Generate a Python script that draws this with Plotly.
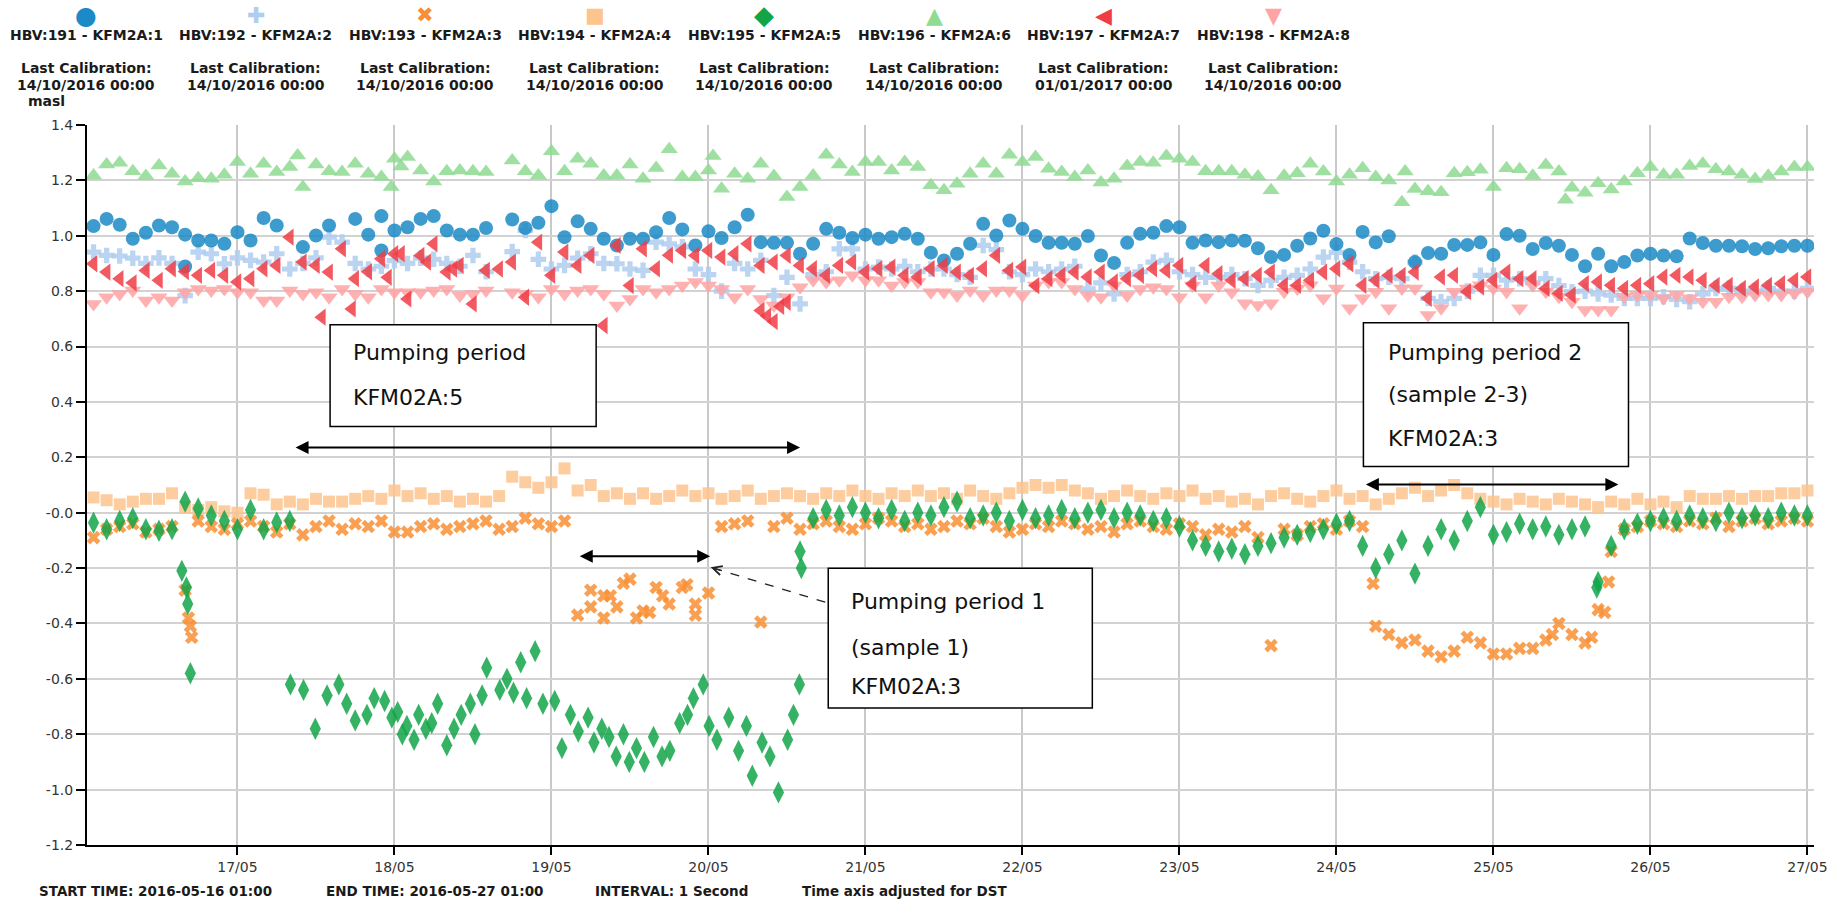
import pandas as pd
import plotly.graph_objects as go

START = pd.Timestamp("2016-05-16 00:00")

# ---------------- data (hours since 2016-05-16 00:00, values in masl) ----------------
grid_hours = list(range(2, 265, 2))  # sampling every 2 h, 16/05 02:00 .. 27/05 00:00

hbv191 = [1.035, 1.061, 1.040, 0.989, 1.011, 1.037, 1.031, 1.004, 0.983, 0.983,
          0.971, 1.013, 0.983, 1.064, 1.037, None, 0.959, 1.001, 1.037, None,
          1.061, 1.004, 1.071, 1.019, 1.031, 1.061, 1.071, 1.019, 1.004, 1.004,
          1.028, None, 1.059, 1.028, 1.047, 1.107, 0.995, 1.052, 1.025, 0.989,
          0.965, 0.989, 0.989, 1.013,
          1.064, 1.023, 0.965, 1.016, 0.992, 1.031, 1.076, 0.977, 0.975, 0.975,
          0.935, 0.971, 1.025, 1.011, 0.992, 1.004, 0.989, 0.995, 1.007, 0.989,
          0.939, 0.911, 0.935, 0.971, 1.043, 1.001, 1.055, 1.025, 0.999, 0.975,
          0.975, 0.971, 0.999, 0.929, 0.902, 0.975, 1.007, 1.011, 1.035, 1.031,
          0.975, 0.983, 0.977, 0.983,
          0.982, 0.955, 0.923, 0.931, 0.964, 0.990, 1.018, 0.970, 0.931, 1.014,
          0.976, 0.998, None, 0.905, 0.938, 0.935, 0.967, 0.967, 0.976, 0.931,
          1.006, 1.000, 0.952, 0.974, 0.964, 0.931, 0.890, 0.935, 0.890, 0.905,
          0.929, 0.935, 0.929, 0.926, 0.990, 0.974, 0.964, 0.964, 0.962, 0.952,
          0.955, 0.962, 0.964, 0.964]
hbv191_extra_h = [16.0, 46.0]
hbv191_extra_v = [0.889, 0.947]

hbv192 = [0.941, 0.929, 0.927, 0.919, 0.900, 0.920, 0.900, 0.784, 0.941, 0.935,
          0.899, 0.920, 0.911, 0.905, 0.935, 0.880, 0.900, 0.920, 0.995, 0.977,
          0.900, 0.880, 0.890, 0.910, 0.900, 0.919, 0.915, 0.900, 0.890, 0.929,
          0.870, None, 0.943, 1.019, 0.915, 0.880, 0.893, 0.919, 0.935, 0.900,
          0.899, 0.880, 0.875, 0.977,
          0.971, 0.960, 0.880, 0.860, 0.800, 0.900, 0.880, 0.911, 0.784, 0.850,
          0.754, 0.860, 0.870, 0.953, 0.953, 0.880, 0.887, 0.880, 0.890, 0.870,
          0.880, 0.880, 0.860, 0.850, 0.965, 0.950, 0.870, 0.860, 0.880, 0.870,
          0.880, 0.890, 0.808, 0.830, 0.790, 0.860, 0.870, 0.905, 0.911, 0.870,
          0.860, 0.850, 0.850, 0.860,
          0.845, 0.821, 0.839, 0.850, 0.857, 0.880, 0.923, 0.940, 0.905, 0.870,
          0.845, 0.850, 0.845, 0.905, 0.774, 0.762, 0.774, 0.800, 0.857, 0.857,
          0.840, 0.845, 0.830, 0.845, 0.820, 0.798, 0.800, 0.790, 0.786, 0.774,
          0.774, 0.774, 0.780, 0.770, 0.762, 0.790, 0.810, 0.810, 0.800, 0.800,
          0.810, 0.800, 0.800, 0.810]

hbv193 = [-0.09, -0.06, -0.05, -0.04, -0.07, -0.06, -0.05, -0.28, -0.03, -0.05,
          -0.06, -0.04, -0.03, -0.05, -0.07,
          -0.04, -0.08, -0.05, -0.03, -0.06, -0.04, -0.05, -0.03, -0.07, -0.07,
          -0.05, -0.04, -0.06, -0.05, -0.04, -0.03, -0.06, -0.05, -0.02, -0.04,
          -0.05, -0.03,
          -0.37, -0.28, -0.30, -0.34, -0.24, -0.355, -0.27, -0.33, -0.27, -0.37, -0.29,
          -0.05, -0.04, -0.03, -0.395, -0.05, -0.02, -0.06, -0.04, -0.03, -0.05,
          -0.06, -0.04, -0.02, -0.03, -0.05, -0.04, -0.06, -0.05, -0.03, -0.04,
          -0.02, -0.05, -0.07, -0.06, -0.04, -0.05, -0.03, -0.04, -0.06, -0.05,
          -0.07, -0.04, -0.03, -0.05, -0.06, -0.04, -0.05, -0.08, -0.06, -0.07,
          -0.05, -0.09, -0.48, -0.06, -0.08, -0.05, -0.04, -0.06, -0.03,
          -0.05, -0.41, -0.44, -0.47, -0.46, -0.50, -0.52, -0.50, -0.45, -0.47,
          -0.51, -0.51, -0.49, -0.49, -0.46, -0.40, -0.44, -0.47, -0.35,
          -0.14, -0.06, -0.05, -0.03, -0.04, -0.05, -0.03, -0.04, -0.02, -0.05,
          -0.03, -0.02, -0.04, -0.03, -0.02, -0.03]
hbv193_extra_h = [16.5, 16.8, 17.0, 78.0, 80.0, 81.0, 83.0, 85.0, 87.0, 89.0, 92.7,
                  94.0, 197.6, 225.0, 231.0, 233.0, 233.6]
hbv193_extra_v = [-0.38, -0.41, -0.45, -0.34, -0.38, -0.30, -0.255, -0.38, -0.36, -0.30,
                  -0.26, -0.33, -0.256, -0.44, -0.45, -0.36, -0.25]

hbv194 = [0.055, 0.045, 0.030, 0.040, 0.050, 0.050, 0.070, 0.020, 0.010, 0.020,
          0.005, 0.000, 0.070, 0.065, 0.030,
          0.040, 0.030, 0.050, 0.040, 0.040, 0.050, 0.060, 0.050, 0.080, 0.060,
          0.070, 0.050, 0.060, 0.040, 0.050, 0.040,
          0.060, 0.130, 0.110, 0.090, 0.110, 0.160, 0.080, 0.100, 0.060, 0.070,
          0.050, 0.070, 0.050, 0.060, 0.080, 0.060, 0.070, 0.050, 0.060, 0.080,
          0.050, 0.060, 0.070, 0.060, 0.050, 0.070, 0.060, 0.080, 0.060, 0.050,
          0.070, 0.060, 0.080, 0.060, 0.070, 0.050, 0.080, 0.060, 0.050, 0.070,
          0.090, 0.100, 0.090, 0.100, 0.080, 0.070, 0.050, 0.060, 0.080, 0.060,
          0.050, 0.070, 0.060, 0.080, 0.050, 0.060, 0.040, 0.050, 0.030, 0.060,
          0.070, 0.050, 0.040, 0.060, 0.080, 0.050, 0.060, 0.030, 0.050, 0.070,
          0.090, 0.060, 0.080, 0.100, 0.070, 0.050, 0.040, 0.030, 0.050, 0.040,
          0.030, 0.050, 0.040, 0.030, 0.020, 0.040, 0.030, 0.050, 0.030, 0.040,
          0.020, 0.060, 0.050, 0.050, 0.060, 0.050, 0.060, 0.060, 0.070, 0.070,
          0.080]

hbv195 = [-0.036, -0.06, -0.03, -0.02, -0.06, -0.065, -0.06, 0.04, 0.015, -0.01,
          -0.03, -0.06, 0.01, -0.06, -0.035,
          -0.03, None, None, None, None, None, None, None, None, None,
          None, None, None, None, None, None, None, None, None, None,
          None, None, None, None, None, None, None, None, None, None,
          None, None, None, None, None, None, None, None, None, None,
          -0.02, 0.01, -0.01, 0.02, 0.00, -0.02, 0.01, -0.03, 0.00, -0.01,
          0.02, 0.04, -0.02, -0.01, 0.00, -0.03, 0.01, -0.02, -0.01, 0.01,
          -0.02, 0.00, 0.01, -0.02, 0.00, -0.01, -0.03, -0.02,
          -0.05, -0.10, -0.12, -0.14, -0.13, -0.15, -0.12, -0.11, -0.09, -0.08,
          -0.07, -0.06, -0.04, -0.03,
          -0.12, -0.20, -0.15, -0.10, -0.22, -0.12, -0.06, -0.10, -0.03, 0.02,
          -0.08, -0.07, -0.04, -0.06, -0.05, -0.08, -0.06, -0.05, -0.25, -0.12,
          -0.06, -0.04, -0.03, -0.02, -0.03, -0.01, -0.02, -0.03, 0.00, -0.02,
          -0.01, -0.02, 0.00, -0.01, -0.01]
hbv195_extra_h = [15.5, 16.2, 16.4, 16.8,
                  32.1, 34.1, 35.9, 37.7, 39.5, 40.7, 42.0, 43.8, 44.9, 46.5,
                  47.6, 48.5, 49.2, 49.9, 51.0, 51.7, 52.8, 53.7, 54.6, 56.0,
                  57.1, 58.2, 59.6, 60.3, 61.4, 62.1, 64.1, 65.2, 66.2, 67.3,
                  68.2, 69.5, 70.7, 72.5, 73.6, 74.9, 76.1, 77.6, 78.5, 79.7,
                  80.8, 81.9, 83.0, 83.9, 85.0, 86.2, 87.6, 88.9, 90.1, 91.6,
                  92.8, 93.7, 95.2, 96.1, 97.3, 99.1, 100.6, 101.8, 102.7, 104.2,
                  105.4, 106.7, 108.1, 109.0, 109.9, 110.0, 110.2, 231.8]
hbv195_extra_v = [-0.21, -0.27, -0.33, -0.58,
                  -0.62, -0.64, -0.78, -0.66, -0.62, -0.69, -0.75, -0.73, -0.67, -0.68,
                  -0.74, -0.72, -0.80, -0.77, -0.82, -0.73, -0.78, -0.76, -0.69, -0.84,
                  -0.78, -0.73, -0.69, -0.80, -0.66, -0.56, -0.64, -0.60, -0.65, -0.54,
                  -0.67, -0.50, -0.69, -0.68, -0.85, -0.73, -0.79, -0.74, -0.83, -0.78,
                  -0.81, -0.88, -0.80, -0.90, -0.85, -0.90, -0.81, -0.88, -0.86, -0.76,
                  -0.73, -0.67, -0.62, -0.77, -0.82, -0.74, -0.86, -0.77, -0.95, -0.83,
                  -0.88, -1.01, -0.82, -0.73, -0.62, -0.14, -0.20, -0.27]

hbv196 = [1.218, 1.257, 1.264, 1.233, 1.216, 1.254, 1.224, 1.196, 1.208, 1.206,
          1.220, 1.266, 1.224, 1.260, 1.230, 1.248, 1.176, 1.257, 1.233, 1.230,
          1.260, 1.224, 1.212, 1.278, 1.284, 1.236, 1.196, 1.233, 1.236, 1.233,
          1.230, None, 1.272, 1.233, 1.218, 1.305, 1.233, 1.278, 1.260, 1.218,
          1.218, 1.257, 1.206, 1.245,
          1.312, 1.212, 1.212, 1.236, 1.170, 1.224, 1.206, 1.260, 1.216, 1.140,
          1.176, 1.218, 1.293, 1.257, 1.230, 1.266, 1.266, 1.236, 1.266, 1.248,
          1.182, 1.164, 1.188, 1.224, 1.260, 1.224, 1.293, 1.266, 1.284, 1.242,
          1.230, 1.212, 1.236, 1.192, 1.206, 1.252, 1.266, 1.264, 1.288, 1.278,
          1.266, 1.233, 1.233, 1.233,
          1.220, 1.214, 1.164, 1.217, 1.226, 1.260, 1.232, 1.196, 1.220, 1.244,
          1.212, 1.200, 1.121, 1.169, 1.161, 1.157, 1.226, 1.229, 1.238, 1.176,
          1.244, 1.240, 1.217, 1.256, 1.232, 1.173, 1.155, 1.190, 1.167, 1.196,
          1.226, 1.248, 1.220, 1.220, 1.252, 1.260, 1.240, 1.232, 1.220, 1.205,
          1.217, 1.232, 1.248, 1.248]
hbv196_extra_h = [33.2, 47.5, 49.0, 96.7, 202.5, 227.0]
hbv196_extra_v = [1.290, 1.176, 1.250, 1.288, 1.232, 1.130]

hbv197 = [0.899, 0.869, 0.845, 0.830, 0.875, 0.839, 0.881, 0.871, 0.857, 0.875,
          0.857, 0.833, 0.845, 0.881, 0.893, 0.995, 0.905, 0.893, 0.869, 0.953,
          0.845, 0.870, 0.917, 0.935, 0.772, 0.929, 0.971, 0.869, 0.893, 0.754,
          0.875, 0.880, 0.905, 0.778, 0.977, 0.857, 0.941, 0.893, 0.929, 0.676,
          0.965, 0.820, 0.953, 0.881,
          0.930, 0.947, 0.929, 0.947, 0.923, 0.935, 0.971, 0.730, 0.690, 0.760,
          0.893, 0.881, 0.857, 0.893, 0.905, 0.869, 0.881, 0.887, 0.857, 0.851,
          0.881, 0.893, 0.869, 0.857, 0.881, 0.929, 0.875, 0.887, 0.820, 0.845,
          0.857, 0.869, 0.851, 0.869, 0.833, 0.845, 0.857, 0.881, 0.875, 0.893,
          0.827, 0.893, 0.863, 0.839,
          0.845, 0.857, 0.869, 0.821, 0.821, 0.839, 0.869, 0.881, 0.899, 0.821,
          0.839, 0.857, 0.857, 0.869, 0.774, 0.851, 0.857, 0.798, 0.815, 0.839,
          0.869, 0.845, 0.845, 0.810, 0.792, 0.786, 0.827, 0.833, 0.821, 0.810,
          0.821, 0.827, 0.851, 0.857, 0.851, 0.839, 0.821, 0.821, 0.810, 0.815,
          0.821, 0.827, 0.839, 0.851]
hbv197_extra_h = [36.9, 41.5, 47.0, 49.0, 53.0, 57.0, 104.0, 105.0, 106.0, 107.0, 108.0]
hbv197_extra_v = [0.706, 0.736, 0.850, 0.935, 0.905, 0.880, 0.893, 0.710, 0.905, 0.745, 0.929]

hbv198 = [0.754, 0.778, 0.790, 0.802, 0.766, 0.778, 0.766, 0.796, 0.808, 0.802,
          0.808, 0.796, 0.796, 0.766, 0.766, 0.802, 0.790, 0.796, 0.778, 0.808,
          0.790, 0.778, 0.808, 0.796, 0.796, 0.796, 0.802, 0.808, 0.784, 0.790,
          0.802, None, 0.796, 0.790, 0.778, 0.808, 0.790, 0.802, 0.808, 0.790,
          0.748, 0.772, 0.808, 0.796,
          0.808, 0.820, 0.833, 0.820, 0.808, 0.778, 0.808, 0.772, 0.748, 0.778,
          0.814, 0.839, 0.833, 0.839, 0.857, 0.839, 0.839, 0.820, 0.833, 0.833,
          0.796, 0.796, 0.784, 0.802, 0.784, 0.802, 0.802, 0.784, 0.820, 0.833,
          0.833, 0.808, 0.784, 0.778, 0.820, 0.784, 0.808, 0.814, 0.808, 0.778,
          0.820, 0.778, 0.820, 0.796,
          0.756, 0.750, 0.756, 0.798, 0.810, 0.821, 0.774, 0.810, 0.738, 0.774,
          0.798, 0.738, 0.810, 0.810, 0.714, 0.738, 0.798, 0.810, 0.821, 0.810,
          0.798, 0.738, 0.821, 0.798, 0.780, 0.762, 0.732, 0.732, 0.732, 0.780,
          0.786, 0.786, 0.774, 0.786, 0.774, 0.762, 0.762, 0.780, 0.780, 0.786,
          0.786, 0.786, 0.792, 0.798]

legend_names = ["HBV:191 - KFM2A:1", "HBV:192 - KFM2A:2", "HBV:193 - KFM2A:3",
                "HBV:194 - KFM2A:4", "HBV:195 - KFM2A:5", "HBV:196 - KFM2A:6",
                "HBV:197 - KFM2A:7", "HBV:198 - KFM2A:8"]
calibration = ["14/10/2016 00:00", "14/10/2016 00:00", "14/10/2016 00:00",
               "14/10/2016 00:00", "14/10/2016 00:00", "14/10/2016 00:00",
               "01/01/2017 00:00", "14/10/2016 00:00"]
y_ticks = [1.4, 1.2, 1.0, 0.8, 0.6, 0.4, 0.2, 0.0, -0.2, -0.4, -0.6, -0.8, -1.0, -1.2]
y_ticktext = ["1.4", "1.2", "1.0", "0.8", "0.6", "0.4", "0.2", "-0.0",
              "-0.2", "-0.4", "-0.6", "-0.8", "-1.0", "-1.2"]

for arr in (hbv191, hbv192, hbv193, hbv194, hbv195, hbv196, hbv197, hbv198):
    assert len(arr) == len(grid_hours), len(arr)

# ---------------- styling ----------------
W, H = 1843, 904
ML, MR, MT, MB = 87, 29, 125, 59
PW, PH = W - ML - MR, H - MT - MB


def T(h):
    return START + pd.Timedelta(hours=h)


def px(x):   # pixel -> paper x
    return (x - ML) / PW


def py(y):   # pixel -> paper y
    return (H - MB - y) / PH


grid_t = [T(h) for h in grid_hours]

# legend glyphs for each series (index order of legend_names)
colors = ["#1b8ac6", "#aecdef", "#f98f35", "#fdc48e", "#12a548", "#8edb92", "#f03c44", "#ffa3a5"]
glyphs = ["\u25CF", "\u271A", "\u2716", "\u25A0", "\u25C6", "\u25B2", "\u25C0", "\u25BC"]
glyph_size = [25, 22, 21, 21, 26, 22, 22, 22]

series = [
    # legend index, values, extras, symbol, size
    (3, hbv194, None, "square", 12),
    (2, hbv193, (hbv193_extra_h, hbv193_extra_v), "x", 12),
    (4, hbv195, (hbv195_extra_h, hbv195_extra_v), "diamond-tall", 16),
    (5, hbv196, (hbv196_extra_h, hbv196_extra_v), "triangle-up", 15),
    (1, hbv192, None, "cross", 13),
    (7, hbv198, None, "triangle-down", 15),
    (0, hbv191, (hbv191_extra_h, hbv191_extra_v), "circle", 14),
    (6, hbv197, (hbv197_extra_h, hbv197_extra_v), "triangle-left", 15),
]

fig = go.Figure()
for idx, vals, extra, sym, size in series:
    xs = list(grid_t)
    ys = list(vals)
    if extra is not None:
        xs += [T(h) for h in extra[0]]
        ys += list(extra[1])
    fig.add_trace(go.Scatter(
        x=xs, y=ys, mode="markers", name=legend_names[idx], showlegend=False,
        marker=dict(symbol=sym, color=colors[idx], size=size, opacity=0.85,
                    line=dict(width=0)),
    ))

annotations = []
txt_font = dict(family="DejaVu Sans", size=14, color="#1a1a1a")
leg_cx = [86 + 169.6 * i for i in range(8)]
for i in range(8):
    annotations.append(dict(xref="paper", yref="paper", x=px(leg_cx[i]), y=py(15),
                            text=glyphs[i], showarrow=False, xanchor="center",
                            yanchor="middle",
                            font=dict(family="DejaVu Sans", size=glyph_size[i],
                                      color=colors[i])))
    annotations.append(dict(xref="paper", yref="paper", x=px(leg_cx[i]), y=py(35),
                            text="<b>%s</b>" % legend_names[i], showarrow=False,
                            xanchor="center", yanchor="middle", font=txt_font))
    annotations.append(dict(xref="paper", yref="paper", x=px(leg_cx[i]), y=py(68),
                            text="<b>Last Calibration:</b>", showarrow=False,
                            xanchor="center", yanchor="middle", font=txt_font))
    annotations.append(dict(xref="paper", yref="paper", x=px(leg_cx[i]), y=py(85),
                            text="<b>%s</b>" % calibration[i], showarrow=False,
                            xanchor="center", yanchor="middle", font=txt_font))
annotations.append(dict(xref="paper", yref="paper", x=px(46), y=py(101),
                        text="<b>masl</b>", showarrow=False, xanchor="center",
                        yanchor="middle", font=txt_font))

# bottom information line
for xpix, t in [(37, "START TIME: 2016-05-16 01:00"), (324, "END TIME: 2016-05-27 01:00"),
                (593, "INTERVAL: 1 Second"), (800, "Time axis adjusted for DST")]:
    annotations.append(dict(xref="paper", yref="paper", x=px(xpix), y=py(891),
                            text="<b>%s</b>" % t, showarrow=False, xanchor="left",
                            yanchor="middle", font=dict(family="DejaVu Sans", size=13.5,
                                                        color="#1a1a1a")))

# text boxes
box_font = dict(family="DejaVu Sans", size=22, color="#111111")
boxes = [
    ((38.16, 78.83, 0.311, 0.679), 41.4, [(0.578, "Pumping period"), (0.416, "KFM02A:5")]),
    ((196.12, 236.64, 0.167, 0.686), 199.6, [(0.578, "Pumping period 2"),
                                              (0.427, "(sample 2-3)"), (0.268, "KFM02A:3")]),
    ((114.31, 154.68, -0.705, -0.201), 117.5, [(-0.320, "Pumping period 1"),
                                                (-0.485, "(sample 1)"), (-0.626, "KFM02A:3")]),
]
shapes = []
for (h0, h1, y0, y1), tx, lines in boxes:
    shapes.append(dict(type="rect", xref="x", yref="y", x0=T(h0), x1=T(h1), y0=y0, y1=y1,
                       line=dict(color="black", width=1.5), fillcolor="white",
                       layer="above"))
    for yy, t in lines:
        annotations.append(dict(xref="x", yref="y", x=T(tx), y=yy, text=t,
                                showarrow=False, xanchor="left", yanchor="middle",
                                font=box_font))

# double-headed arrows
for h0, h1, yy in [(32.65, 110.0, 0.235), (196.27, 235.1, 0.102), (76.1, 96.26, -0.157)]:
    annotations.append(dict(xref="x", yref="y", axref="x", ayref="y",
                            x=T(h1), y=yy, ax=T(h0), ay=yy, text="", showarrow=True,
                            arrowhead=2, startarrowhead=2, arrowside="end+start",
                            arrowsize=1.3, startarrowsize=1.3, arrowwidth=2,
                            arrowcolor="black", standoff=0, startstandoff=0))

# dashed pointer
shapes.append(dict(type="line", xref="x", yref="y", x0=T(113.85), y0=-0.323,
                   x1=T(96.6), y1=-0.199, line=dict(color="#222", width=1.3, dash="dash"),
                   layer="above"))
annotations.append(dict(xref="x", yref="y", x=T(96.34), y=-0.197, ax=11.5, ay=3.5,
                        text="", showarrow=True, arrowhead=5, arrowsize=1.4,
                        arrowwidth=1.3, arrowcolor="#222", standoff=0))

fig.update_layout(
    width=W, height=H,
    margin=dict(l=ML, r=MR, t=MT, b=MB, pad=0),
    paper_bgcolor="white", plot_bgcolor="white",
    font=dict(family="DejaVu Sans", size=14, color="#333333"),
    xaxis=dict(
        type="date", range=[T(1), T(265)],
        tick0=T(24), dtick=86400000, tickformat="%d/%m",
        ticks="outside", ticklen=8, tickwidth=2, tickcolor="black",
        showline=True, linecolor="black", linewidth=2,
        showgrid=True, gridcolor="#c9c9c9", gridwidth=1.5,
        zeroline=False, tickfont=dict(family="DejaVu Sans", size=14, color="#333333"),
    ),
    yaxis=dict(
        range=[-1.2, 1.4], tickvals=y_ticks, ticktext=y_ticktext,
        ticks="outside", ticklen=9, tickwidth=2, tickcolor="black",
        showline=True, linecolor="black", linewidth=2,
        showgrid=True, gridcolor="#d2d2d2", gridwidth=1.5,
        zeroline=False, tickfont=dict(family="DejaVu Sans", size=14, color="#333333"),
    ),
    shapes=shapes,
    annotations=annotations,
    showlegend=False,
)

fig.write_html("out.html")
